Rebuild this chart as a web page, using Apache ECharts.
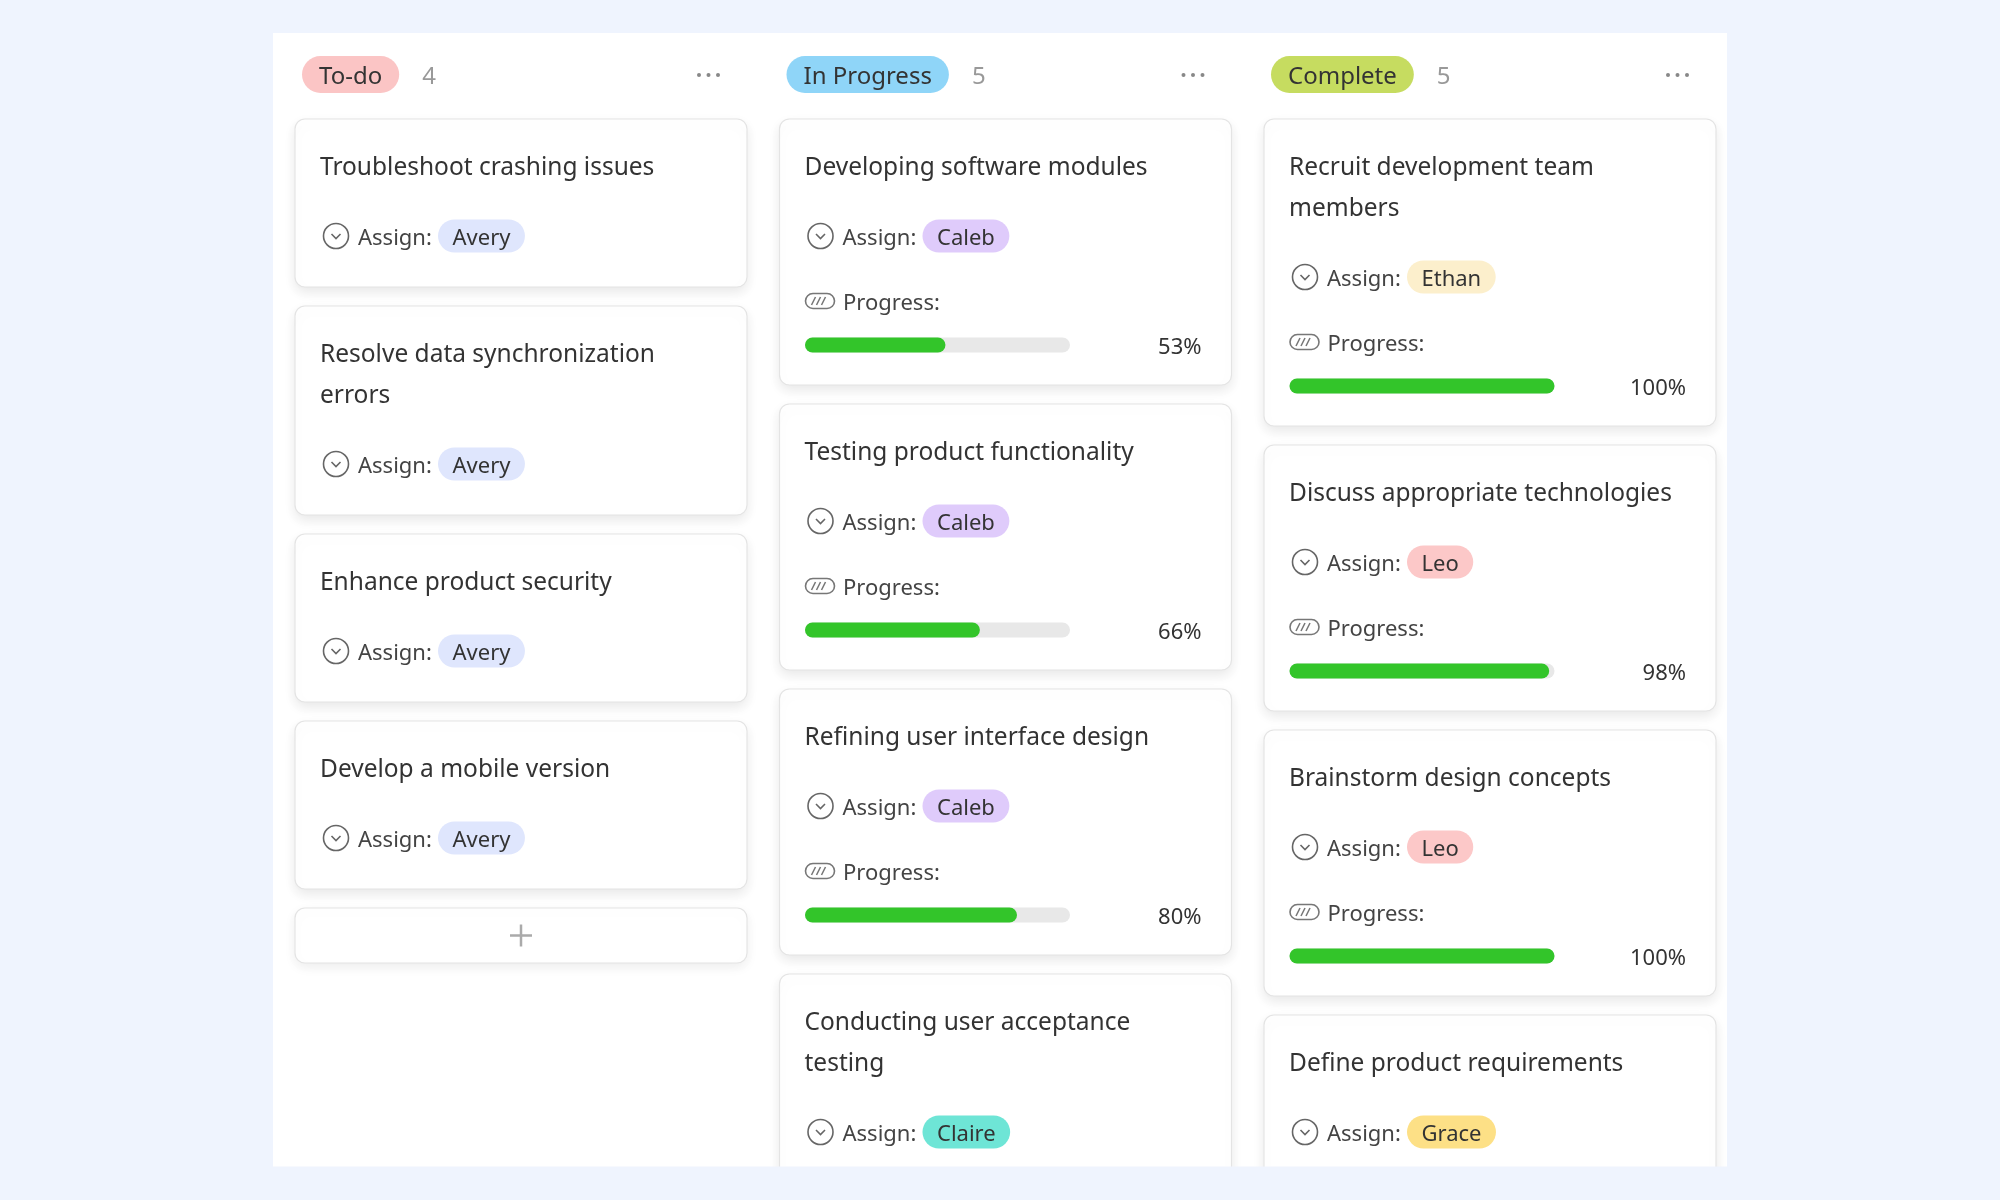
<!DOCTYPE html>
<html>
<head>
<meta charset="utf-8">
<script src="https://cdn.jsdelivr.net/npm/echarts@6/dist/echarts.min.js"></script>
<style>
  html, body { margin: 0; padding: 0; background: #eff4fe; }
  #board { width: 2000px; height: 1200px; }
</style>
</head>
<body>
<div id="board"></div>
<script>
// column headers
const columnNames = ["To-do", "In Progress", "Complete"];
const columnCounts = [4, 5, 5];
const columnColors = ["#fbc5c5", "#8fd5f8", "#c6dc60"];

// cards per column (only what is visible in the board)
const todoTitles = [
  "Troubleshoot crashing issues",
  "Resolve data synchronization\nerrors",
  "Enhance product security",
  "Develop a mobile version",
];
const todoAssignees = ["Avery", "Avery", "Avery", "Avery"];

const progressTitles = [
  "Developing software modules",
  "Testing product functionality",
  "Refining user interface design",
  "Conducting user acceptance\ntesting",
];
const progressAssignees = ["Caleb", "Caleb", "Caleb", "Claire"];
const progressValues = [53, 66, 80, null];

const completeTitles = [
  "Recruit development team\nmembers",
  "Discuss appropriate technologies",
  "Brainstorm design concepts",
  "Define product requirements",
];
const completeAssignees = ["Ethan", "Leo", "Leo", "Grace"];
const completeValues = [100, 98, 100, null];

const assigneeColors = {
  Avery: "#dfe6fd",
  Caleb: "#dfcbfb",
  Claire: "#6ee5d6",
  Ethan: "#fcefcc",
  Leo: "#fcc8c8",
  Grace: "#fde086",
};

const FONT = '"Noto Sans", sans-serif';
const measureCtx = document.createElement("canvas").getContext("2d");
function textWidth(str, size) {
  measureCtx.font = size + "px " + FONT;
  return measureCtx.measureText(str).width;
}

const COL_X = [295, 779.5, 1264];
const CARD_W = 452;
const BAR_W = 265;
const BAR_H = 15;
const TEXT_DY = 2.5; // noto sits a little high when centred

const columns = [
  { titles: todoTitles, people: todoAssignees, values: null },
  { titles: progressTitles, people: progressAssignees, values: progressValues },
  { titles: completeTitles, people: completeAssignees, values: completeValues },
];

const els = [];
const grids = [];
const xAxes = [];
const yAxes = [];
const series = [];

function txt(x, y, text, size, color, align) {
  return {
    type: "text", x: x, y: y + TEXT_DY, z: 3, silent: true,
    style: {
      text: text, fill: color, font: size + "px " + FONT,
      textAlign: align || "left", textVerticalAlign: "middle",
    },
  };
}

// white panel
els.push({ type: "rect", z: 0, silent: true,
  shape: { x: 273, y: 33, width: 1454, height: 1134 }, style: { fill: "#fff" } });

columns.forEach((col, c) => {
  const cx = COL_X[c];

  // header tag + count + dots
  const tagW = textWidth(columnNames[c], 24) + 34;
  els.push({ type: "rect", z: 2, silent: true,
    shape: { x: cx + 7, y: 56, width: tagW, height: 37, r: 18.5 },
    style: { fill: columnColors[c] } });
  els.push(txt(cx + 24, 74.5, columnNames[c], 24, "#333"));
  els.push(txt(cx + 7 + tagW + 23, 74.5, String(columnCounts[c]), 24, "#999"));
  [404, 413.5, 423].forEach((dx) => {
    els.push({ type: "circle", z: 2, silent: true,
      shape: { cx: cx + dx, cy: 75, r: 2 }, style: { fill: "#888" } });
  });

  let top = 119;
  col.titles.forEach((title, i) => {
    const lines = title.split("\n").length;
    const assignY = top + 47 + 70 + (lines - 1) * 41;
    const hasProgress = col.values !== null;
    const progY = assignY + 65;
    const barY = progY + 44;
    const bottom = hasProgress ? barY + 40 : assignY + 51;

    els.push({ type: "rect", z: 1, silent: true,
      shape: { x: cx, y: top, width: CARD_W, height: bottom - top, r: 10 },
      style: { fill: "#fff", stroke: "#e4e4e4", lineWidth: 1.2,
        shadowBlur: 12, shadowOffsetY: 5, shadowColor: "rgba(0,0,0,0.09)" } });

    els.push({ type: "text", x: cx + 25, y: top + 47 - 20.5 + TEXT_DY, z: 3, silent: true,
      style: { text: title, fill: "#333", font: "24.5px " + FONT,
        lineHeight: 41, textAlign: "left", textVerticalAlign: "top" } });

    // assign row
    els.push({ type: "circle", z: 3, silent: true,
      shape: { cx: cx + 41, cy: assignY, r: 12.5 },
      style: { fill: "none", stroke: "#666", lineWidth: 1.6 } });
    els.push({ type: "polyline", z: 3, silent: true,
      shape: { points: [[cx + 36.5, assignY - 2], [cx + 41, assignY + 2.5], [cx + 45.5, assignY - 2]] },
      style: { stroke: "#666", lineWidth: 1.6, fill: "none" } });
    els.push(txt(cx + 63, assignY, "Assign:", 22, "#444"));
    const who = col.people[i];
    const pillW = textWidth(who, 22) + 29;
    els.push({ type: "rect", z: 2, silent: true,
      shape: { x: cx + 143, y: assignY - 16.5, width: pillW, height: 33, r: 16.5 },
      style: { fill: assigneeColors[who] } });
    els.push(txt(cx + 143 + 14.5, assignY, who, 22, "#333"));

    if (hasProgress) {
      // progress label with small battery-like icon
      els.push({ type: "rect", z: 3, silent: true,
        shape: { x: cx + 26, y: progY - 7.5, width: 29, height: 15, r: 7.5 },
        style: { fill: "none", stroke: "#777", lineWidth: 1.6 } });
      [0, 5, 10].forEach((d) => {
        els.push({ type: "line", z: 3, silent: true,
          shape: { x1: cx + 32 + d, y1: progY + 4, x2: cx + 36 + d, y2: progY - 4 },
          style: { stroke: "#777", lineWidth: 1.5 } });
      });
      els.push(txt(cx + 63.5, progY, "Progress:", 22, "#444"));

      const v = col.values[i];
      if (v !== null) {
        const gi = grids.length;
        grids.push({ left: cx + 25.5, top: barY - BAR_H / 2, width: BAR_W, height: BAR_H });
        xAxes.push({ gridIndex: gi, type: "value", min: 0, max: 100, show: false });
        yAxes.push({ gridIndex: gi, type: "category", data: [title], show: false });
        series.push({
          type: "bar", xAxisIndex: gi, yAxisIndex: gi, z: 10, silent: true,
          barWidth: BAR_H, data: [v],
          showBackground: true,
          backgroundStyle: { color: "#e8e8e8", borderRadius: BAR_H / 2 },
          itemStyle: { color: "#33c52a", borderRadius: BAR_H / 2 },
          animation: false,
        });
        els.push(txt(cx + 422, barY, v + "%", 22, "#333", "right"));
      }
    }
    top = bottom + 19;
  });

  if (c === 0) {
    // add-card button
    els.push({ type: "rect", z: 1, silent: true,
      shape: { x: cx, y: top, width: CARD_W, height: 55, r: 10 },
      style: { fill: "#fff", stroke: "#e4e4e4", lineWidth: 1.2,
        shadowBlur: 12, shadowOffsetY: 4, shadowColor: "rgba(0,0,0,0.07)" } });
    const px = cx + 226, py = top + 27.5;
    els.push({ type: "line", z: 3, silent: true,
      shape: { x1: px - 11, y1: py, x2: px + 11, y2: py }, style: { stroke: "#aaa", lineWidth: 2.5 } });
    els.push({ type: "line", z: 3, silent: true,
      shape: { x1: px, y1: py - 11, x2: px, y2: py + 11 }, style: { stroke: "#aaa", lineWidth: 2.5 } });
  }
});

// board is cut at the bottom edge
els.push({ type: "rect", z: 100, silent: true,
  shape: { x: 0, y: 1166.5, width: 2000, height: 40 }, style: { fill: "#eff4fe" } });

const chart = echarts.init(document.getElementById("board"));
chart.setOption({
  backgroundColor: "#eff4fe",
  animation: false,
  grid: grids,
  xAxis: xAxes,
  yAxis: yAxes,
  series: series,
  graphic: { elements: els },
});
</script>
</body>
</html>
